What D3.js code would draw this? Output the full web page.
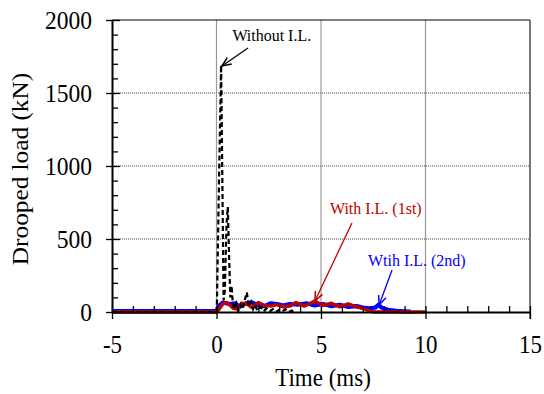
<!DOCTYPE html>
<html><head><meta charset="utf-8">
<script src="https://cdn.jsdelivr.net/npm/d3@7/dist/d3.min.js"></script>
</head><body style="margin:0;background:#fff"><svg id="c" width="544" height="394" style="display:block" font-family="Liberation Serif"></svg>
<script>
// Data (time in ms, droop load in kN)
const withoutIL = [[-5,0],[0,0],[0.02,50],[0.12,900],[0.22,1690],[0.28,900],[0.34,80],[0.4,150],[0.48,600],[0.54,720],[0.6,400],[0.66,100],[0.72,180],[0.78,60],[0.85,20],[0.95,60],[1.05,10],[1.15,50],[1.25,20],[1.35,80],[1.45,135],[1.55,40],[1.65,70],[1.75,20],[1.85,50],[1.95,10],[2.1,35],[2.25,5],[2.4,25],[2.55,5],[2.7,20],[2.85,0],[3.0,15],[3.15,5],[3.3,20],[3.45,0],[3.6,10],[3.7,0]];
const withIL1 = [[-5,0],[0,0],[0.05,5],[0.3,55],[0.5,65],[0.8,25],[1.0,20],[1.2,60],[1.5,50],[1.7,30],[2.0,65],[2.3,45],[2.6,40],[2.9,50],[3.2,35],[3.5,40],[3.8,65],[4.2,40],[4.7,75],[5.1,45],[5.5,60],[5.9,35],[6.3,55],[6.7,35],[7.0,25],[7.3,10],[7.5,0],[10,0]];
const withIL2 = [[-5,6],[0,6],[0.1,40],[0.3,65],[0.6,55],[0.9,60],[1.1,35],[1.4,60],[1.7,65],[2.0,45],[2.3,40],[2.6,60],[2.9,55],[3.2,45],[3.5,55],[3.9,50],[4.3,60],[4.7,45],[5.1,55],[5.5,40],[5.9,50],[6.3,35],[6.7,40],[7.0,30],[7.3,25],[7.6,30],[7.75,50],[7.9,30],[8.2,15],[8.6,8],[9.0,5],[9.3,3]];
const xTicks = [-5,0,5,10,15];
const yTicks = [0,500,1000,1500,2000];
const annotations = [
  {text:"Without I.L.", color:"#000", tx:0.76, ty:1853, x1:1.51, y1:1808, x2:0.26, y2:1685},
  {text:"With I.L. (1st)", color:"#c00000", tx:5.43, ty:671, x1:6.48, y1:610, x2:4.71, y2:75},
  {text:"Wtih I.L. (2nd)", color:"#0000ff", tx:7.25, ty:315, x1:8.40, y1:288, x2:7.78, y2:48}
];
const FONT = "Liberation Serif";
const SY = 1.1; // vertical stretch of the lettering

const svg = d3.select("#c");
const x = d3.scaleLinear().domain([-5,15]).range([112,530]);
const y = d3.scaleLinear().domain([0,2000]).range([312,20]);

svg.append("g").selectAll("line").data([500,1000,1500]).join("line")
  .attr("x1",x(-5)).attr("x2",x(15)).attr("y1",d=>y(d)).attr("y2",d=>y(d))
  .attr("stroke","#444").attr("stroke-width",1).attr("stroke-dasharray","1,1");
svg.append("g").selectAll("line").data([0,5,10]).join("line")
  .attr("x1",d=>x(d)).attr("x2",d=>x(d)).attr("y1",y(0)).attr("y2",y(2000))
  .attr("stroke","#999").attr("stroke-width",1.2);
svg.append("line").attr("x1",x(-5)).attr("x2",x(15)).attr("y1",y(2000)).attr("y2",y(2000)).attr("stroke","#000").attr("stroke-width",1);
svg.append("line").attr("x1",x(15)).attr("x2",x(15)).attr("y1",y(2000)).attr("y2",y(0)+7).attr("stroke","#555").attr("stroke-width",1.6);

const line = d3.line().x(d=>x(d[0])).y(d=>y(d[1]));
svg.append("path").datum(withIL2).attr("d",line).attr("fill","none").attr("stroke","#0000ff").attr("stroke-width",4.2).attr("stroke-linejoin","round");
svg.append("path").datum(withIL1).attr("d",line).attr("fill","none").attr("stroke","#c00000").attr("stroke-width",3.4).attr("stroke-linejoin","round");
svg.append("path").datum(withoutIL).attr("d",line).attr("fill","none").attr("stroke","#000").attr("stroke-width",2.2).attr("stroke-dasharray","5,3");

const yAxisG = svg.append("g").attr("transform",`translate(${x(-5)},0)`);
yAxisG.call(d3.axisLeft(y).tickValues(d3.range(0,2001,100)).tickSize(0).tickFormat(""));
yAxisG.attr("font-family",FONT);
yAxisG.select(".domain").attr("stroke","#000").attr("stroke-width",2);
yAxisG.selectAll(".tick line").remove();
yAxisG.selectAll(".tick").append("line").attr("x1",d=>d%500===0?-6:0).attr("x2",d=>d%500===0?8:6).attr("stroke","#000").attr("stroke-width",1.3);
yAxisG.selectAll(".tick").filter(d=>yTicks.includes(d)).append("text")
  .attr("transform",`translate(-20,0) scale(1,${SY})`).attr("dy","0.34em").attr("text-anchor","end").attr("fill","#000")
  .attr("font-family",FONT).attr("font-size",23.5).text(d=>d);

const xAxisG = svg.append("g").attr("transform",`translate(0,${y(0)})`);
xAxisG.call(d3.axisBottom(x).tickValues(d3.range(-5,15.01,1)).tickSize(0).tickFormat(""));
xAxisG.attr("font-family",FONT);
xAxisG.select(".domain").attr("stroke","#000").attr("stroke-width",2);
xAxisG.selectAll(".tick line").remove();
xAxisG.selectAll(".tick").append("line").attr("y1",d=>d%5===0?7:0).attr("y2",-6).attr("stroke","#000").attr("stroke-width",1.3);
xAxisG.selectAll(".tick").filter(d=>xTicks.includes(d)).append("text")
  .attr("transform",`translate(0,41) scale(1,${SY})`).attr("text-anchor","middle").attr("fill","#000")
  .attr("font-family",FONT).attr("font-size",23).text(d=>d);

svg.append("text").attr("transform",`translate(${(x(-5)+x(15))/2+2},386) scale(1,${SY})`).attr("text-anchor","middle").attr("font-family",FONT).attr("font-size",23).text("Time (ms)");
svg.append("text").attr("transform",`translate(28,${(y(0)+y(2000))/2+3}) rotate(-90) scale(${SY},1)`).attr("text-anchor","middle").attr("font-family",FONT).attr("font-size",23).text("Drooped load (kN)");

annotations.forEach(a=>{
  svg.append("text").attr("transform",`translate(${x(a.tx)},${y(a.ty)}) scale(1,${SY})`).attr("fill",a.color).attr("font-family",FONT).attr("font-size",16).text(a.text);
  const X1=x(a.x1),Y1=y(a.y1),X2=x(a.x2),Y2=y(a.y2);
  svg.append("line").attr("x1",X1).attr("y1",Y1).attr("x2",X2).attr("y2",Y2).attr("stroke",a.color).attr("stroke-width",1.3);
  const ang=Math.atan2(Y2-Y1,X2-X1), L=10, w=0.4;
  const p1=[X2-L*Math.cos(ang-w),Y2-L*Math.sin(ang-w)], p2=[X2-L*Math.cos(ang+w),Y2-L*Math.sin(ang+w)];
  svg.append("path").attr("d",`M${p1}L${X2},${Y2}L${p2}`).attr("fill","none").attr("stroke",a.color).attr("stroke-width",1.5);
});
</script></body></html>
